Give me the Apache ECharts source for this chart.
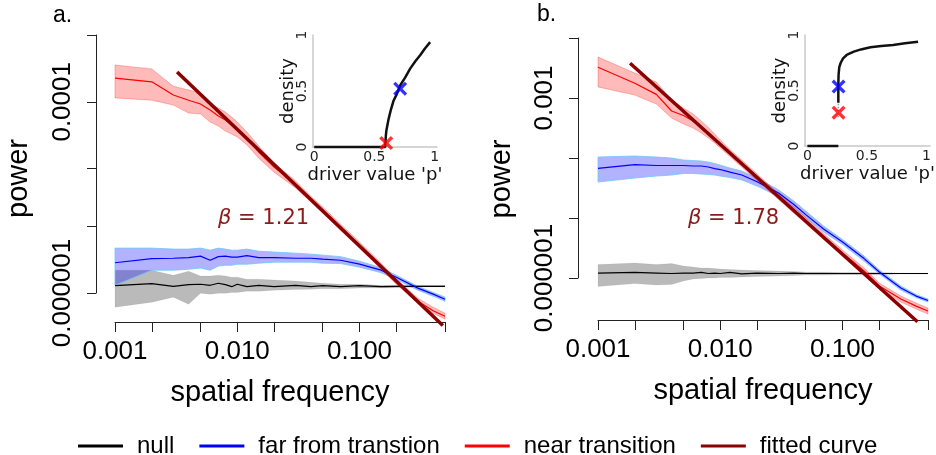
<!DOCTYPE html>
<html>
<head>
<meta charset="utf-8">
<title>power spectra</title>
<script src="https://cdn.jsdelivr.net/npm/echarts@6/dist/echarts.min.js"></script>
<style>
  html, body { margin: 0; padding: 0; background: #fff; }
  #chart { width: 936px; height: 455px; }
</style>
</head>
<body>
<div id="chart"></div>
<script>
// spatial frequencies (same for both panels)
const freq = [0.001, 0.002, 0.003, 0.004, 0.005, 0.006, 0.007, 0.008, 0.009, 0.01, 0.012, 0.015, 0.02, 0.03, 0.04, 0.05, 0.07, 0.1, 0.15, 0.2, 0.3, 0.4, 0.5];

// panel a : power
const nullA   = [1.20e-6, 1.26e-6, 1.18e-6, 1.23e-6, 1.24e-6, 1.21e-6, 1.27e-6, 1.23e-6, 1.17e-6, 1.24e-6, 1.17e-6, 1.21e-6, 1.17e-6, 1.21e-6, 1.17e-6, 1.20e-6, 1.17e-6, 1.20e-6, 1.17e-6, 1.18e-6, 1.18e-6, 1.18e-6, 1.18e-6];
const nullAHi = [1.74e-6, 1.74e-6, 1.54e-6, 1.70e-6, 1.51e-6, 1.51e-6, 1.54e-6, 1.51e-6, 1.47e-6, 1.47e-6, 1.40e-6, 1.40e-6, 1.37e-6, 1.34e-6, 1.30e-6, 1.27e-6, 1.24e-6, 1.24e-6, 1.21e-6, 1.21e-6, 1.21e-6, 1.21e-6, 1.21e-6];
const nullALo = [7.14e-7, 8.05e-7, 9.09e-7, 7.68e-7, 1.00e-6, 9.77e-7, 1.00e-6, 1.00e-6, 1.02e-6, 1.02e-6, 1.05e-6, 1.05e-6, 1.075e-6, 1.09e-6, 1.10e-6, 1.11e-6, 1.11e-6, 1.13e-6, 1.13e-6, 1.14e-6, 1.16e-6, 1.16e-6, 1.16e-6];
const farA    = [2.08e-6, 2.30e-6, 2.32e-6, 2.35e-6, 2.44e-6, 2.21e-6, 2.41e-6, 2.44e-6, 2.38e-6, 2.38e-6, 2.47e-6, 2.35e-6, 2.35e-6, 2.32e-6, 2.32e-6, 2.27e-6, 2.21e-6, 2.01e-6, 1.74e-6, 1.47e-6, 1.13e-6, 9.77e-7, 8.66e-7];
const farAHi  = [2.96e-6, 2.96e-6, 2.89e-6, 2.89e-6, 2.96e-6, 2.82e-6, 2.96e-6, 2.89e-6, 2.82e-6, 2.82e-6, 2.89e-6, 2.75e-6, 2.69e-6, 2.62e-6, 2.56e-6, 2.50e-6, 2.41e-6, 2.16e-6, 1.85e-6, 1.54e-6, 1.18e-6, 1.02e-6, 9.09e-7];
const farALo  = [1.21e-6, 1.74e-6, 1.74e-6, 1.78e-6, 1.83e-6, 1.74e-6, 1.92e-6, 1.96e-6, 1.96e-6, 2.01e-6, 2.01e-6, 2.06e-6, 2.11e-6, 2.11e-6, 2.11e-6, 2.06e-6, 2.04e-6, 1.87e-6, 1.64e-6, 1.40e-6, 1.075e-6, 9.31e-7, 8.25e-7];
const nearA   = [1.77e-4, 1.62e-4, 1.18e-4, 1.04e-4, 9.49e-5, 8.21e-5, 7.11e-5, 6.46e-5, 5.72e-5, 5.19e-5, 4.18e-5, 2.99e-5, 2.08e-5, 1.38e-5, 9.63e-6, 7.39e-6, 4.90e-6, 3.18e-6, 1.92e-6, 1.34e-6, 8.25e-7, 6.56e-7, 5.75e-7];
const nearAHi = [2.43e-4, 2.21e-4, 1.46e-4, 1.33e-4, 1.24e-4, 9.72e-5, 8.62e-5, 7.82e-5, 6.94e-5, 6.15e-5, 4.83e-5, 3.45e-5, 2.29e-5, 1.49e-5, 1.03e-5, 7.94e-6, 5.27e-6, 3.42e-6, 2.06e-6, 1.40e-6, 8.87e-7, 7.14e-7, 6.18e-7];
const nearALo = [1.10e-4, 1.04e-4, 9.26e-5, 7.64e-5, 7.46e-5, 6.15e-5, 5.59e-5, 4.95e-5, 4.61e-5, 4.29e-5, 3.54e-5, 2.58e-5, 1.84e-5, 1.26e-5, 8.96e-6, 6.87e-6, 4.56e-6, 2.96e-6, 1.78e-6, 1.24e-6, 7.86e-7, 6.18e-7, 5.35e-7];
const fitFreqA = [0.00322, 0.48];
const fitPowA  = [2.05e-4, 4.6e-7];

// panel b : power
const nullB   = [1.21e-6, 1.24e-6, 1.21e-6, 1.19e-6, 1.21e-6, 1.21e-6, 1.24e-6, 1.19e-6, 1.21e-6, 1.19e-6, 1.24e-6, 1.17e-6, 1.21e-6, 1.19e-6, 1.21e-6, 1.19e-6, 1.19e-6, 1.19e-6, 1.19e-6, 1.19e-6, 1.19e-6, 1.19e-6, 1.19e-6];
const nullBHi = [1.68e-6, 1.78e-6, 1.68e-6, 1.74e-6, 1.59e-6, 1.53e-6, 1.47e-6, 1.47e-6, 1.44e-6, 1.41e-6, 1.39e-6, 1.36e-6, 1.33e-6, 1.31e-6, 1.28e-6, 1.26e-6, 1.26e-6, 1.24e-6, 1.24e-6, 1.24e-6, 1.21e-6, 1.21e-6, 1.21e-6];
const nullBLo = [7.21e-7, 8.10e-7, 7.64e-7, 7.79e-7, 8.91e-7, 9.62e-7, 9.81e-7, 1.00e-6, 1.00e-6, 1.02e-6, 1.02e-6, 1.04e-6, 1.06e-6, 1.08e-6, 1.10e-6, 1.12e-6, 1.12e-6, 1.14e-6, 1.14e-6, 1.14e-6, 1.17e-6, 1.17e-6, 1.17e-6];
const farB    = [6.73e-5, 7.79e-5, 7.50e-5, 7.50e-5, 7.50e-5, 7.36e-5, 7.36e-5, 7.08e-5, 6.68e-5, 6.43e-5, 5.84e-5, 5.21e-5, 4.03e-5, 2.61e-5, 1.68e-5, 1.14e-5, 6.56e-6, 3.98e-6, 2.11e-6, 1.26e-6, 6.81e-7, 5.01e-7, 4.22e-7];
const farBHi  = [1.04e-4, 1.08e-4, 1.04e-4, 1.00e-4, 9.26e-5, 9.08e-5, 8.91e-5, 8.58e-5, 8.10e-5, 7.64e-5, 6.81e-5, 6.07e-5, 4.64e-5, 2.93e-5, 1.92e-5, 1.31e-5, 7.36e-6, 4.38e-6, 2.33e-6, 1.36e-6, 7.36e-7, 5.31e-7, 4.47e-7];
const farBLo  = [3.98e-5, 4.64e-5, 5.01e-5, 5.21e-5, 5.52e-5, 5.52e-5, 5.41e-5, 5.31e-5, 5.21e-5, 5.01e-5, 4.73e-5, 4.30e-5, 3.41e-5, 2.28e-5, 1.50e-5, 1.02e-5, 5.84e-6, 3.62e-6, 1.92e-6, 1.17e-6, 6.31e-7, 4.73e-7, 3.98e-7];
const nearB   = [3.25e-3, 1.76e-3, 1.15e-3, 6.07e-4, 5.11e-4, 4.14e-4, 3.29e-4, 2.61e-4, 2.07e-4, 1.71e-4, 1.21e-4, 8.10e-5, 4.82e-5, 2.28e-5, 1.36e-5, 9.08e-6, 4.92e-6, 2.61e-6, 1.31e-6, 7.36e-7, 4.47e-7, 3.41e-7, 2.82e-7];
const nearBHi = [4.82e-3, 2.61e-3, 1.85e-3, 9.26e-4, 6.81e-4, 5.41e-4, 4.14e-4, 3.22e-4, 2.51e-4, 2.00e-4, 1.39e-4, 9.26e-5, 5.41e-5, 2.56e-5, 1.53e-5, 1.02e-5, 5.52e-6, 2.93e-6, 1.47e-6, 8.25e-7, 5.01e-7, 3.83e-7, 3.16e-7];
const nearBLo = [1.53e-3, 1.12e-3, 7.94e-4, 4.64e-4, 3.69e-4, 3.16e-4, 2.61e-4, 2.15e-4, 1.78e-4, 1.47e-4, 1.06e-4, 7.08e-5, 4.22e-5, 2.03e-5, 1.21e-5, 8.10e-6, 4.38e-6, 2.33e-6, 1.17e-6, 6.56e-7, 3.98e-7, 3.04e-7, 2.51e-7];
const fitFreqB = [0.00183, 0.41];
const fitPowB  = [3.79e-3, 1.87e-7];

// insets : density vs driver value
const insetAP = [0, 0.59, 0.595, 0.6, 0.617, 0.635, 0.658, 0.685, 0.714, 0.755, 0.797, 0.84, 0.88, 0.92, 0.963];
const insetAD = [0, 0, 0.1, 0.15, 0.245, 0.325, 0.41, 0.47, 0.55, 0.62, 0.70, 0.765, 0.82, 0.88, 0.936];
const markA = { near: [0.598, 0.035], far: [0.714, 0.52] };
const insetBLowP = [0, 0.26];
const insetBLowD = [0, 0];
const insetBP = [0.26, 0.26, 0.262, 0.268, 0.28, 0.3, 0.33, 0.39, 0.45, 0.53, 0.62, 0.72, 0.82, 0.93];
const insetBD = [0.39, 0.55, 0.64, 0.71, 0.75, 0.79, 0.82, 0.85, 0.87, 0.89, 0.90, 0.91, 0.925, 0.94];
const insetBGapP = [0.26, 0.26];
const insetBGapD = [0.26, 0.39];
const markB = { near: [0.262, 0.30], far: [0.262, 0.535] };

// ticks
const xTicks = [0.001, 0.002, 0.005, 0.01, 0.02, 0.05, 0.1, 0.2, 0.5];
const xLabels = [0.001, 0.01, 0.1];
const yTicksA = [1e-6, 5e-6, 2e-5, 1e-4, 5e-4];
const yLabelsA = [1e-6, 1e-4];
const yTicksB = [1e-6, 1e-5, 1e-4, 1e-3, 1e-2];
const yLabelsB = [1e-6, 1e-3];
const unitTicks = [0, 0.5, 1];

const SANS = 'Liberation Sans';
const DEJA = 'DejaVu Sans';
const AXIS = '#222';
const XMARK = 'path://M0,2 L2,0 L6,4 L10,0 L12,2 L8,6 L12,10 L10,12 L6,8 L2,12 L0,10 L4,6 Z';

const zip = (xs, ys) => xs.map((x, i) => [x, ys[i]]);
const decFmt = v => Number(v).toFixed(Math.round(-Math.log10(v)));

function lineSeries(name, xs, ys, color, width, axis, z) {
    return {
        type: 'line', name: name, xAxisIndex: axis, yAxisIndex: axis,
        data: zip(xs, ys), showSymbol: false, symbol: 'none', clip: false,
        lineStyle: { color: color, width: width }, itemStyle: { color: color },
        emphasis: { disabled: true }, z: z || 3, silent: true
    };
}

// shaded band between lo and hi, drawn as one polygon through the axes
function bandSeries(xs, lo, hi, fill, stroke, axis) {
    return {
        type: 'custom', xAxisIndex: axis, yAxisIndex: axis, silent: true, z: 2,
        data: xs.map((x, i) => [x, lo[i], hi[i]]),
        encode: { x: 0, y: [1, 2] },
        renderItem: function (params, api) {
            if (params.dataIndex !== 0) return null;
            const pts = [];
            for (let i = 0; i < xs.length; i++) pts.push(api.coord([xs[i], hi[i]]));
            for (let i = xs.length - 1; i >= 0; i--) pts.push(api.coord([xs[i], lo[i]]));
            return { type: 'polygon', shape: { points: pts }, style: { fill: fill, stroke: stroke, lineWidth: 1 } };
        }
    };
}

function markSeries(pt, color, axis) {
    return {
        type: 'scatter', xAxisIndex: axis, yAxisIndex: axis, data: [pt], silent: true,
        symbol: XMARK, symbolSize: 14, itemStyle: { color: color }, z: 5
    };
}

function freqAxis(grid) {
    return {
        type: 'log', gridIndex: grid, min: 0.001, max: 0.5, logBase: 10,
        axisLine: { show: true, onZero: false, lineStyle: { color: AXIS, width: 1 } },
        axisTick: { show: true, length: 10, customValues: xTicks, lineStyle: { color: AXIS } },
        axisLabel: { show: true, customValues: xLabels, margin: 17, fontSize: 26, fontFamily: SANS, color: '#000',
            formatter: v => Number(v).toFixed(3) },
        splitLine: { show: false }, minorTick: { show: false },
        name: 'spatial frequency', nameLocation: 'middle', nameGap: 56, nameMoveOverlap: false,
        nameTextStyle: { fontSize: 29, fontFamily: SANS, color: '#000' }
    };
}

function powerNameAxis(grid, min, max) {
    return {
        type: 'log', gridIndex: grid, min: min, max: max,
        axisLine: { show: false }, axisTick: { show: false }, axisLabel: { show: false },
        splitLine: { show: false },
        name: 'power', nameLocation: 'middle', nameGap: 82, nameMoveOverlap: false,
        nameTextStyle: { fontSize: 29, fontFamily: SANS, color: '#000' }
    };
}

function powerAxis(grid, min, max, ticks, labels) {
    return {
        type: 'log', gridIndex: grid, min: min, max: max,
        axisLine: { show: true, onZero: false, lineStyle: { color: AXIS, width: 1 } },
        axisTick: { show: true, length: 9, customValues: ticks, lineStyle: { color: AXIS } },
        axisLabel: { customValues: labels, rotate: 90, margin: 20, fontSize: 26, fontFamily: SANS, color: '#000',
            formatter: decFmt },
        splitLine: { show: false }, minorTick: { show: false }
    };
}

function insetX(grid, min, max) {
    return {
        type: 'value', gridIndex: grid, min: min, max: max,
        axisLine: { show: true, onZero: false, lineStyle: { color: '#c8c8c8', width: 1.5 } },
        axisTick: { show: false },
        axisLabel: { customValues: unitTicks, margin: 3, fontSize: 14, fontFamily: DEJA, color: '#222' },
        splitLine: { show: false },
        name: "driver value 'p'", nameLocation: 'middle', nameGap: 19, nameMoveOverlap: false,
        nameTextStyle: { fontSize: 18, fontFamily: DEJA, color: '#111' }
    };
}

function insetY(grid) {
    return {
        type: 'value', gridIndex: grid, min: 0, max: 1,
        axisLine: { show: true, onZero: false, lineStyle: { color: '#c8c8c8', width: 1.5 } },
        axisTick: { show: false },
        axisLabel: { customValues: unitTicks, rotate: 90, margin: 4, fontSize: 14, fontFamily: DEJA, color: '#222' },
        splitLine: { show: false },
        name: 'density', nameLocation: 'middle', nameGap: 16, nameMoveOverlap: false,
        nameTextStyle: { fontSize: 18, fontFamily: DEJA, color: '#111' }
    };
}

const hidden = g => ({ type: 'value', gridIndex: g, show: false, min: 0, max: 1 });

const BAND_GRAY = 'rgba(0,0,0,0.27)';
const BAND_BLUE = 'rgba(0,0,255,0.3)';
const BAND_RED = 'rgba(255,0,0,0.27)';
const FIT = '#8b0000';

const myChart = echarts.init(document.getElementById('chart'), null, { renderer: 'canvas' });

const option = {
    animation: false,
    backgroundColor: '#fff',
    grid: [
        { left: 115, top: 35, width: 330, height: 287, outerBoundsMode: 'none' }, // a data
        { left: 96, top: 35, width: 10, height: 258, outerBoundsMode: 'none' },   // a power axis
        { left: 598, top: 38, width: 330, height: 282, outerBoundsMode: 'none' }, // b data
        { left: 578, top: 38, width: 10, height: 240, outerBoundsMode: 'none' },  // b power axis
        { left: 313, top: 35, width: 124, height: 112, outerBoundsMode: 'none' }, // a inset
        { left: 805, top: 35, width: 125, height: 111, outerBoundsMode: 'none' }  // b inset
    ],
    xAxis: [freqAxis(0), hidden(1), freqAxis(2), hidden(3), insetX(4, -0.01, 1.02), insetX(5, -0.02, 1.03)],
    yAxis: [
        powerNameAxis(0, 5e-7, 5e-4),
        powerAxis(1, 1e-6, 5e-4, yTicksA, yLabelsA),
        powerNameAxis(2, 2e-7, 1e-2),
        powerAxis(3, 1e-6, 1e-2, yTicksB, yLabelsB),
        insetY(4),
        insetY(5)
    ],
    legend: {
        left: 73, top: 429, itemWidth: 45, itemHeight: 3, itemGap: 25, selectedMode: false,
        textStyle: { fontFamily: SANS, fontSize: 24, color: '#000', padding: [0, 0, 0, 9] },
        data: [
            { name: 'null', icon: 'rect' },
            { name: 'far from transtion', icon: 'rect' },
            { name: 'near transition', icon: 'rect' },
            { name: 'fitted curve', icon: 'rect' }
        ]
    },
    graphic: [
        { type: 'text', x: 53, y: 16, style: { text: 'a.', font: '23px "Liberation Sans"', fill: '#000', verticalAlign: 'middle' } },
        { type: 'text', x: 537, y: 15, style: { text: 'b.', font: '23px "Liberation Sans"', fill: '#000', verticalAlign: 'middle' } },
        { type: 'text', x: 218, y: 219, z: 10, style: { text: '{i|β} = 1.21', font: '21px "DejaVu Sans"', fill: '#8b1a1a', verticalAlign: 'middle',
            rich: { i: { fontStyle: 'italic', fontSize: 21, fontFamily: DEJA, fill: '#8b1a1a' } } } },
        { type: 'text', x: 688, y: 219, z: 10, style: { text: '{i|β} = 1.78', font: '21px "DejaVu Sans"', fill: '#8b1a1a', verticalAlign: 'middle',
            rich: { i: { fontStyle: 'italic', fontSize: 21, fontFamily: DEJA, fill: '#8b1a1a' } } } }
    ],
    series: [
        // panel a
        bandSeries(freq, nullALo, nullAHi, BAND_GRAY, 'rgba(0,0,0,0.05)', 0),
        bandSeries(freq, farALo, farAHi, BAND_BLUE, 'rgba(110,200,250,0.8)', 0),
        bandSeries(freq, nearALo, nearAHi, BAND_RED, 'rgba(255,0,0,0.25)', 0),
        lineSeries('null', freq, nullA, '#000', 1.2, 0),
        lineSeries('far from transtion', freq, farA, '#0000ff', 1.2, 0),
        lineSeries('near transition', freq, nearA, '#ff0000', 1.2, 0),
        lineSeries('fitted curve', fitFreqA, fitPowA, FIT, 3.5, 0, 4),
        // panel b
        bandSeries(freq, nullBLo, nullBHi, BAND_GRAY, 'rgba(0,0,0,0.05)', 2),
        bandSeries(freq, farBLo, farBHi, BAND_BLUE, 'rgba(110,200,250,0.8)', 2),
        bandSeries(freq, nearBLo, nearBHi, BAND_RED, 'rgba(255,0,0,0.25)', 2),
        lineSeries('null', freq, nullB, '#000', 1.2, 2),
        lineSeries('far from transtion', freq, farB, '#0000ff', 1.2, 2),
        lineSeries('near transition', freq, nearB, '#ff0000', 1.2, 2),
        lineSeries('fitted curve', fitFreqB, fitPowB, FIT, 3.5, 2, 4),
        // insets
        lineSeries('insetA', insetAP, insetAD, '#111', 2.5, 4),
        markSeries(markA.near, '#ff0000', 4),
        markSeries(markA.far, '#0000ff', 4),
        lineSeries('insetBlow', insetBLowP, insetBLowD, '#111', 2.5, 5),
        Object.assign(lineSeries('insetBgap', insetBGapP, insetBGapD, '#999', 1.5, 5), { lineStyle: { color: '#999', width: 1.5, type: 'dotted' } }),
        lineSeries('insetB', insetBP, insetBD, '#111', 2.5, 5),
        markSeries(markB.near, '#ff0000', 5),
        markSeries(markB.far, '#0000ff', 5)
    ]
};

myChart.setOption(option, true);
</script>
</body>
</html>
